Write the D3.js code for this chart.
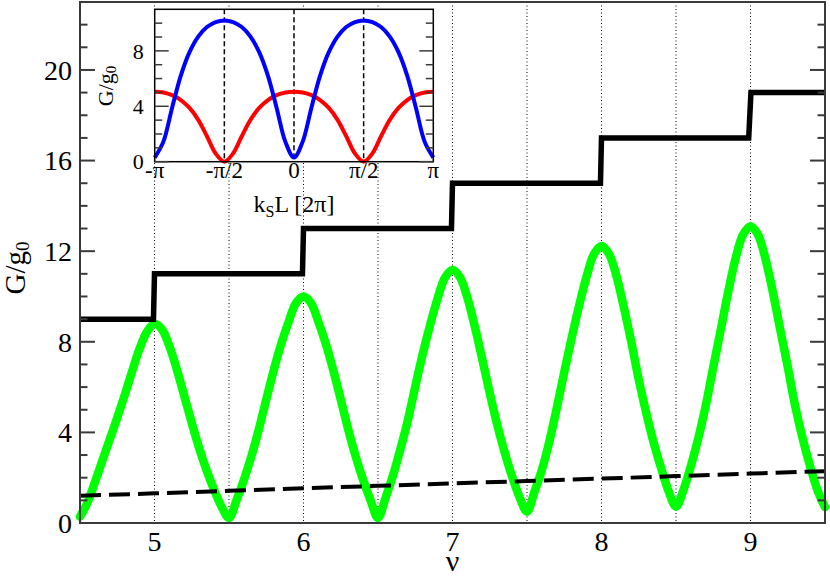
<!DOCTYPE html>
<html><head><meta charset="utf-8">
<script src="https://cdn.jsdelivr.net/npm/d3@7"></script>
<style>
body{margin:0;background:#fff}
svg{display:block}
text{font-family:"Liberation Serif","Times New Roman",Times,"Nimbus Roman",serif;fill:#000}
</style>
</head><body>
<svg id="chart" width="830" height="578" font-family="Liberation Serif, Times New Roman, serif"></svg>
<script>
// ---------- main panel data ----------
const nu = [4.5,4.55,4.6,4.65,4.7,4.75,4.8,4.85,4.9,4.95,
  5.0,5.05,5.1,5.15,5.2,5.25,5.3,5.35,5.4,5.45,
  5.5,5.55,5.6,5.65,5.7,5.75,5.8,5.85,5.9,5.95,
  6.0,6.05,6.1,6.15,6.2,6.25,6.3,6.35,6.4,6.45,
  6.5,6.55,6.6,6.65,6.7,6.75,6.8,6.85,6.9,6.95,
  7.0,7.05,7.1,7.15,7.2,7.25,7.3,7.35,7.4,7.45,
  7.5,7.55,7.6,7.65,7.7,7.75,7.8,7.85,7.9,7.95,
  8.0,8.05,8.1,8.15,8.2,8.25,8.3,8.35,8.4,8.45,
  8.5,8.55,8.6,8.65,8.7,8.75,8.8,8.85,8.9,8.95,
  9.0,9.05,9.1,9.15,9.2,9.25,9.3,9.35,9.4,9.45,9.5];
const conductance = [0.28,0.9,1.8,2.75,3.7,4.65,5.65,6.7,7.7,8.45,
  8.8,8.55,7.8,6.78,5.6,4.42,3.3,2.32,1.46,0.72,
  0.22,1.0,1.9,2.94,4.13,5.45,6.74,7.9,8.88,9.71,
  10.0,9.71,8.88,7.9,6.74,5.45,4.13,2.94,1.9,1.0,
  0.22,1.1,2.09,3.25,4.52,6.02,7.46,8.75,9.91,10.84,
  11.17,10.85,9.94,8.66,7.22,5.73,4.34,3.12,2.05,1.14,
  0.5,1.38,2.35,3.60,5.08,6.66,8.18,9.60,10.88,11.88,
  12.23,11.88,10.91,9.52,7.99,6.33,4.87,3.55,2.43,1.41,
  0.72,1.46,2.52,3.75,5.19,6.88,8.52,10.19,11.68,12.73,
  13.1,12.73,11.67,10.19,8.52,6.89,5.16,3.73,2.50,1.44,0.7];
const stairNu = [4.5,4.993,5.0,5.993,6.0,6.993,7.0,7.993,8.0,8.988,9.003,9.5];
const stairG  = [9,9,11,11,13,13,15,15,17,17,19,19];
const dashNu = [4.5,5.0,5.5,6.0,6.5,7.0,7.5,8.0,8.5,9.0,9.5];
const dashG  = [1.2,1.31,1.42,1.53,1.64,1.75,1.85,1.96,2.07,2.18,2.29];
const gridNu = [5,5.5,6,6.5,7,7.5,8,8.5,9];
const xTickValues = [5,6,7,8,9];
const yMajorTicks = [0,4,8,12,16,20];
const yMinorTicks = [1,2,3,5,6,7,9,10,11,13,14,15,17,18,19,21,22];

// ---------- inset data (k in units of pi) ----------
const insetK = [-1,-0.9375,-0.875,-0.8125,-0.75,-0.6875,-0.625,-0.5625,-0.5,-0.4375,-0.375,-0.3125,-0.25,-0.1875,-0.125,-0.0625,
  0,0.0625,0.125,0.1875,0.25,0.3125,0.375,0.4375,0.5,0.5625,0.625,0.6875,0.75,0.8125,0.875,0.9375,1];
const insetBlue = [0.3,1.45,3.90,6.22,7.91,9.03,9.72,10.08,10.2,10.08,9.72,9.03,7.91,6.22,3.90,1.45,
  0.3,1.45,3.90,6.22,7.91,9.03,9.72,10.08,10.2,10.08,9.72,9.03,7.91,6.22,3.90,1.45,0.3];
const insetRed = [5.05,4.99,4.80,4.45,3.88,3.02,1.84,0.59,0,0.59,1.84,3.02,3.88,4.45,4.80,4.99,
  5.05,4.99,4.80,4.45,3.88,3.02,1.84,0.59,0,0.59,1.84,3.02,3.88,4.45,4.80,4.99,5.05];
const insetXTicks = [-1,-0.5,0,0.5,1];
const insetXLabels = ["-\u03C0","-\u03C0/2","0","\u03C0/2","\u03C0"];
const insetDashK = [-0.5,0,0.5];
const insetYMajor = [0,4,8];
const insetYMinor = [1,2,3,5,6,7,9,10];

const svg = d3.select("#chart");
const axisColor = "#3a3a3a";

// ---------- main scales ----------
const P = {l:80, r:825, t:2, b:523};
const x = d3.scaleLinear().domain([4.5,9.5]).range([P.l,P.r]);
const y = d3.scaleLinear().domain([0,23]).range([P.b,P.t]);

// grid
svg.append("g").selectAll("line").data(gridNu).join("line")
  .attr("x1",d=>x(d)).attr("x2",d=>x(d)).attr("y1",P.t).attr("y2",P.b)
  .attr("stroke","#000").attr("stroke-width",1).attr("stroke-dasharray","1,2.5");

// green curve
const gLine = d3.line().x((d,i)=>x(nu[i])).y(d=>y(d)).curve(d3.curveCatmullRom);
svg.append("path").attr("d",gLine(conductance))
  .attr("fill","none").attr("stroke","#00ff00").attr("stroke-width",8.5)
  .attr("stroke-linejoin","round").attr("stroke-linecap","round");

// dashed line
const dLine = d3.line().x((d,i)=>x(dashNu[i])).y(d=>y(d));
svg.append("path").attr("d",dLine(dashG))
  .attr("fill","none").attr("stroke","#000").attr("stroke-width",4)
  .attr("stroke-dasharray","21,8");

// staircase
const sLine = d3.line().x((d,i)=>x(stairNu[i])).y(d=>y(d));
svg.append("path").attr("d",sLine(stairG))
  .attr("fill","none").attr("stroke","#000").attr("stroke-width",5.5)
  .attr("stroke-linejoin","miter");

// frame
svg.append("rect").attr("x",P.l).attr("y",P.t).attr("width",P.r-P.l).attr("height",P.b-P.t)
  .attr("fill","none").attr("stroke",axisColor).attr("stroke-width",2);

// y ticks (left + right, inward)
function yTicks(vals,len){
  const g = svg.append("g").attr("stroke",axisColor).attr("stroke-width",2);
  g.selectAll("line.l").data(vals).join("line").attr("class","l")
    .attr("x1",P.l).attr("x2",P.l+len).attr("y1",d=>y(d)).attr("y2",d=>y(d));
  g.selectAll("line.r").data(vals).join("line").attr("class","r")
    .attr("x1",P.r).attr("x2",P.r-len).attr("y1",d=>y(d)).attr("y2",d=>y(d));
}
yTicks(yMajorTicks,15);
yTicks(yMinorTicks,7.5);

svg.append("g").selectAll("text").data(yMajorTicks).join("text")
  .attr("x",P.l-8).attr("y",d=>y(d)).attr("dy","0.35em")
  .attr("text-anchor","end").attr("font-size",28).text(d=>d);
svg.append("g").selectAll("text").data(xTickValues).join("text")
  .attr("x",d=>x(d)).attr("y",551).attr("text-anchor","middle")
  .attr("font-size",28).text(d=>d);

// axis labels
svg.append("text").attr("x",x(7)).attr("y",571).attr("text-anchor","middle")
  .attr("font-size",30).text("\u03BD");
const yl = svg.append("text").attr("transform","translate(25,268) rotate(-90)")
  .attr("text-anchor","middle").attr("font-size",29);
yl.append("tspan").text("G/g");
yl.append("tspan").attr("font-size",19).attr("dy",4).text("0");

// ---------- inset ----------
const I = {l:154.7, r:433.3, t:9.3, b:161.7};
const xi = d3.scaleLinear().domain([-1,1]).range([I.l,I.r]);
const yi = d3.scaleLinear().domain([0,11]).range([I.b,I.t]);

svg.append("rect").attr("x",I.l).attr("y",I.t).attr("width",I.r-I.l).attr("height",I.b-I.t)
  .attr("fill","#fff");

svg.append("g").selectAll("line").data(insetDashK).join("line")
  .attr("x1",d=>xi(d)).attr("x2",d=>xi(d)).attr("y1",I.t).attr("y2",I.b)
  .attr("stroke","#000").attr("stroke-width",1.5).attr("stroke-dasharray","5,3");

const iLine = d3.line().x((d,i)=>xi(insetK[i])).y(d=>yi(d)).curve(d3.curveCatmullRom);
svg.append("path").attr("d",iLine(insetRed)).attr("fill","none")
  .attr("stroke","#ff0000").attr("stroke-width",4);
svg.append("path").attr("d",iLine(insetBlue)).attr("fill","none")
  .attr("stroke","#0000ff").attr("stroke-width",4);

svg.append("rect").attr("x",I.l).attr("y",I.t).attr("width",I.r-I.l).attr("height",I.b-I.t)
  .attr("fill","none").attr("stroke","#000").attr("stroke-width",1.5);

function iTicks(vals,len){
  const g = svg.append("g").attr("stroke",axisColor).attr("stroke-width",1.5);
  g.selectAll("line.l").data(vals).join("line").attr("class","l")
    .attr("x1",I.l).attr("x2",I.l+len).attr("y1",d=>yi(d)).attr("y2",d=>yi(d));
  g.selectAll("line.r").data(vals).join("line").attr("class","r")
    .attr("x1",I.r).attr("x2",I.r-len).attr("y1",d=>yi(d)).attr("y2",d=>yi(d));
}
iTicks(insetYMajor,14);
iTicks(insetYMinor,7.5);

svg.append("g").selectAll("text").data(insetYMajor).join("text")
  .attr("x",I.l-11).attr("y",d=>yi(d)).attr("dy","0.35em")
  .attr("text-anchor","end").attr("font-size",22).text(d=>d);
svg.append("g").selectAll("text").data(insetXTicks).join("text")
  .attr("x",d=>xi(d)).attr("y",178).attr("text-anchor","middle")
  .attr("font-size",23).text((d,i)=>insetXLabels[i]);

const kl = svg.append("text").attr("x",xi(0)).attr("y",212).attr("text-anchor","middle").attr("font-size",24);
kl.append("tspan").text("k");
kl.append("tspan").attr("font-size",16).attr("dy",5).text("S");
kl.append("tspan").attr("dy",-5).text("L [2\u03C0]");

const il = svg.append("text").attr("transform","translate(113,86) rotate(-90)")
  .attr("text-anchor","middle").attr("font-size",22);
il.append("tspan").text("G/g");
il.append("tspan").attr("font-size",15).attr("dy",3).text("0");
</script>
</body></html>
